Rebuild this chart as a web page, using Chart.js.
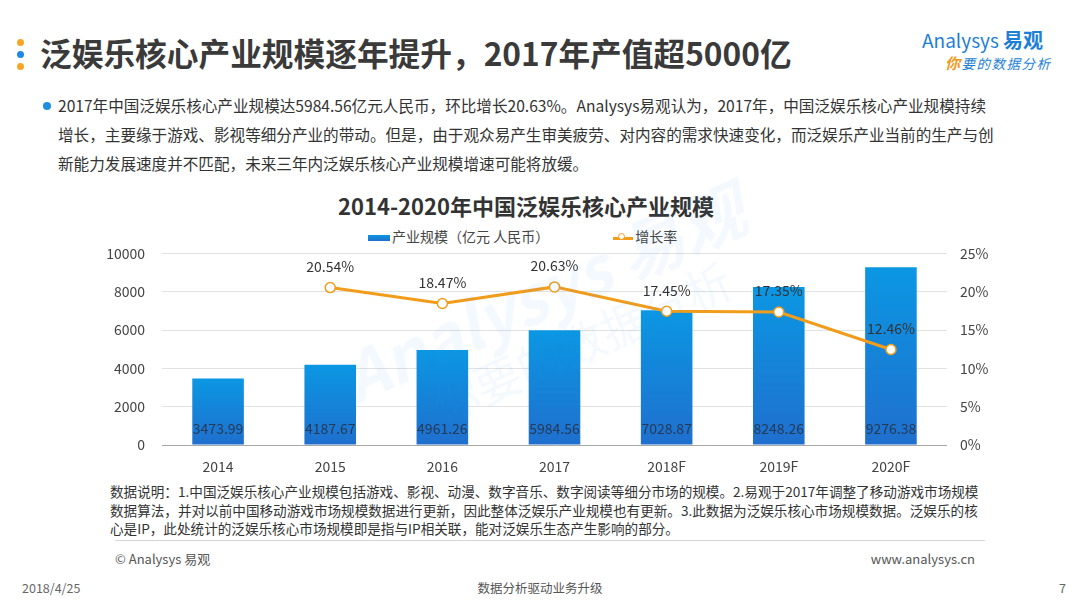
<!DOCTYPE html>
<html>
<head>
<meta charset="utf-8">
<script src="https://cdn.jsdelivr.net/npm/chart.js@4"></script>
<style>
  html, body { margin: 0; padding: 0; background: #fff; }
  body { width: 1080px; height: 608px; position: relative; overflow: hidden;
         font-family: "Microsoft YaHei", "Noto Sans CJK SC", sans-serif; color: #333; }
  .abs { position: absolute; white-space: nowrap; }
  .dot { position: absolute; width: 7px; height: 7px; border-radius: 50%; left: 17px; }
  #title { left: 40px; top: 30px; font-size: 31.7px; font-weight: bold; color: #3a3a3a; line-height: 44px; }
  #logo1 { left: 922px; top: 28px; font-size: 19px; color: #1d7fd6; line-height: 24px; }
  #logo1 b { font-size: 20px; }
  #logo2 { left: 945px; top: 54px; font-size: 13.5px; color: #1d7fd6; font-style: italic; letter-spacing: 1.5px; line-height: 18px; }
  #logo2 span { color: #f29a1f; font-size: 15px; font-weight: bold; }
  #intro { left: 58px; top: 91px; font-size: 15.6px; line-height: 29px; color: #333; }
  #bullet { position: absolute; left: 43px; top: 102px; width: 8px; height: 8px; border-radius: 50%; background: #1e8ee0; }
  #ctitle { left: 0; width: 1052px; text-align: center; top: 190px; font-size: 22px; font-weight: bold; color: #333; line-height: 30px; }
  #legend { left: 368px; top: 226px; font-size: 14px; color: #444; line-height: 20px; }
  .lg-bar { display: inline-block; width: 22px; height: 6px; vertical-align: middle; margin-right: 2px; }
  .lg-line { display: inline-block; position: relative; width: 20px; height: 3px; vertical-align: middle; margin-left: 64px; margin-right: 2px; }
  .lg-line i { position: absolute; left: 5px; top: -4px; width: 7px; height: 7px; border-radius: 50%; background: #fff; box-sizing: border-box; }
  #wrap { position: absolute; left: 100px; top: 228px; width: 900px; height: 252px; }
  #notes { left: 110px; top: 482px; font-size: 13.6px; line-height: 18.5px; color: #333; }
  #sep { position: absolute; left: 115px; top: 540px; width: 870px; height: 1px; background: #d6d6d6; }
  #copy { left: 115px; top: 549px; font-size: 13px; color: #555; }
  #site { right: 105px; top: 549px; font-size: 13px; color: #555; }
  #date { left: 22px; top: 578px; font-size: 12.5px; color: #666; }
  #slogan { left: 0; width: 1080px; text-align: center; top: 578px; font-size: 12.5px; color: #555; }
  #page { left: 1059px; top: 578px; font-size: 12.5px; color: #666; }
  #wm { left: 330px; top: 345px; transform: rotate(-24deg); transform-origin: left top;
        color: rgba(30, 140, 230, 0.055); pointer-events: none; line-height: 1.1; }
  #wm .a { font-size: 66px; font-weight: bold; font-style: italic; }
  #wm .b { font-size: 46px; margin-left: 70px; }
</style>
</head>
<body>
<div class="dot" style="top:39px;background:#f5a623"></div>
<div class="dot" style="top:51px;background:#1e88e5"></div>
<div class="dot" style="top:63px;background:#f5a623"></div>
<div id="title" class="abs">泛娱乐核心产业规模逐年提升，2017年产值超5000亿</div>
<div id="logo1" class="abs">Analysys <b>易观</b></div>
<div id="logo2" class="abs"><span>你</span>要的数据分析</div>

<div id="bullet"></div>
<div id="intro" class="abs">2017年中国泛娱乐核心产业规模达5984.56亿元人民币，环比增长20.63%。Analysys易观认为，2017年，中国泛娱乐核心产业规模持续<br>增长，主要缘于游戏、影视等细分产业的带动。但是，由于观众易产生审美疲劳、对内容的需求快速变化，而泛娱乐产业当前的生产与创<br>新能力发展速度并不匹配，未来三年内泛娱乐核心产业规模增速可能将放缓。</div>

<div id="ctitle" class="abs">2014-2020年中国泛娱乐核心产业规模</div>
<div id="legend" class="abs"></div>

<div id="wrap"><canvas id="chart"></canvas></div>

<div id="wm" class="abs"><div class="a">Analysys 易观</div><div class="b">你要的数据分析</div></div>

<div id="notes" class="abs">数据说明：1.中国泛娱乐核心产业规模包括游戏、影视、动漫、数字音乐、数字阅读等细分市场的规模。2.易观于2017年调整了移动游戏市场规模<br>数据算法，并对以前中国移动游戏市场规模数据进行更新，因此整体泛娱乐产业规模也有更新。3.此数据为泛娱乐核心市场规模数据。泛娱乐的核<br>心是IP，此处统计的泛娱乐核心市场规模即是指与IP相关联，能对泛娱乐生态产生影响的部分。</div>
<div id="sep"></div>
<div id="copy" class="abs">© Analysys 易观</div>
<div id="site" class="abs">www.analysys.cn</div>
<div id="date" class="abs">2018/4/25</div>
<div id="slogan" class="abs">数据分析驱动业务升级</div>
<div id="page" class="abs">7</div>

<script>
// --- Chart data ---
const years = ['2014', '2015', '2016', '2017', '2018F', '2019F', '2020F'];
const industrySize = [3473.99, 4187.67, 4961.26, 5984.56, 7028.87, 8248.26, 9276.38];
const growthRate = [null, 20.54, 18.47, 20.63, 17.45, 17.35, 12.46];
const seriesNames = ['产业规模（亿元 人民币）', '增长率'];

const barTop = '#0b97e3';
const barBottom = '#1f6fce';
const lineColor = '#f29c1c';
const fontFamily = '"Microsoft YaHei", "Noto Sans CJK SC", sans-serif';

// legend in html, colours taken from the series styles
document.getElementById('legend').innerHTML =
  `<span class="lg-bar" style="background:linear-gradient(${barTop},${barBottom})"></span>${seriesNames[0]}` +
  `<span class="lg-line" style="background:${lineColor}"><i style="border:1.5px solid ${lineColor}"></i></span>${seriesNames[1]}`;

function barGradient(context) {
  const chart = context.chart;
  if (!chart.chartArea) return barBottom;
  const y = chart.scales.y;
  const g = chart.ctx.createLinearGradient(0, y.getPixelForValue(context.raw), 0, y.getPixelForValue(0));
  g.addColorStop(0, barTop);
  g.addColorStop(1, barBottom);
  return g;
}

// value labels: bar values near the base, rates above the points
const valueLabels = {
  id: 'valueLabels',
  afterDatasetsDraw(chart) {
    const ctx = chart.ctx;
    ctx.save();
    ctx.font = '14px ' + fontFamily;
    ctx.textAlign = 'center';
    ctx.textBaseline = 'middle';
    ctx.fillStyle = '#263a56';
    chart.getDatasetMeta(0).data.forEach((bar, i) => {
      ctx.fillText(industrySize[i].toFixed(2), bar.x, bar.base - 16);
    });
    ctx.fillStyle = '#333';
    chart.getDatasetMeta(1).data.forEach((pt, i) => {
      if (growthRate[i] == null) return;
      ctx.fillText(growthRate[i].toFixed(2) + '%', pt.x, pt.y - 21);
    });
    ctx.restore();
  }
};

new Chart(document.getElementById('chart'), {
  data: {
    labels: years,
    datasets: [
      {
        type: 'bar', label: seriesNames[0], data: industrySize, yAxisID: 'y', order: 2,
        backgroundColor: barGradient, categoryPercentage: 1, barPercentage: 0.46
      },
      {
        type: 'line', label: seriesNames[1], data: growthRate, yAxisID: 'y1', order: 1,
        borderColor: lineColor, borderWidth: 3, tension: 0,
        pointRadius: 5, pointBackgroundColor: '#fff', pointBorderColor: lineColor, pointBorderWidth: 1.5
      }
    ]
  },
  options: {
    responsive: true, maintainAspectRatio: false, animation: false,
    layout: { padding: { top: 9, left: 0, right: 0, bottom: 0 } },
    plugins: { legend: { display: false }, tooltip: { enabled: false } },
    scales: {
      x: {
        grid: { display: false }, border: { display: false },
        ticks: { color: '#444', font: { size: 14, family: fontFamily }, padding: 5 },
        afterFit(s) { s.height = 35; }
      },
      y: {
        position: 'left', min: 0, max: 10000,
        ticks: { stepSize: 2000, color: '#444', font: { size: 14, family: fontFamily }, padding: 17, callback: v => String(v) },
        grid: { drawTicks: false, color: c => c.tick.value === 0 ? '#a8a8a8' : '#e2e2e2' },
        border: { display: false },
        afterFit(s) { s.width = 62; }
      },
      y1: {
        position: 'right', min: 0, max: 25,
        ticks: { stepSize: 5, color: '#444', font: { size: 14, family: fontFamily }, padding: 13, callback: v => v + '%' },
        grid: { display: false, drawTicks: false }, border: { display: false },
        afterFit(s) { s.width = 53; }
      }
    }
  },
  plugins: [valueLabels]
});
</script>
</body>
</html>
